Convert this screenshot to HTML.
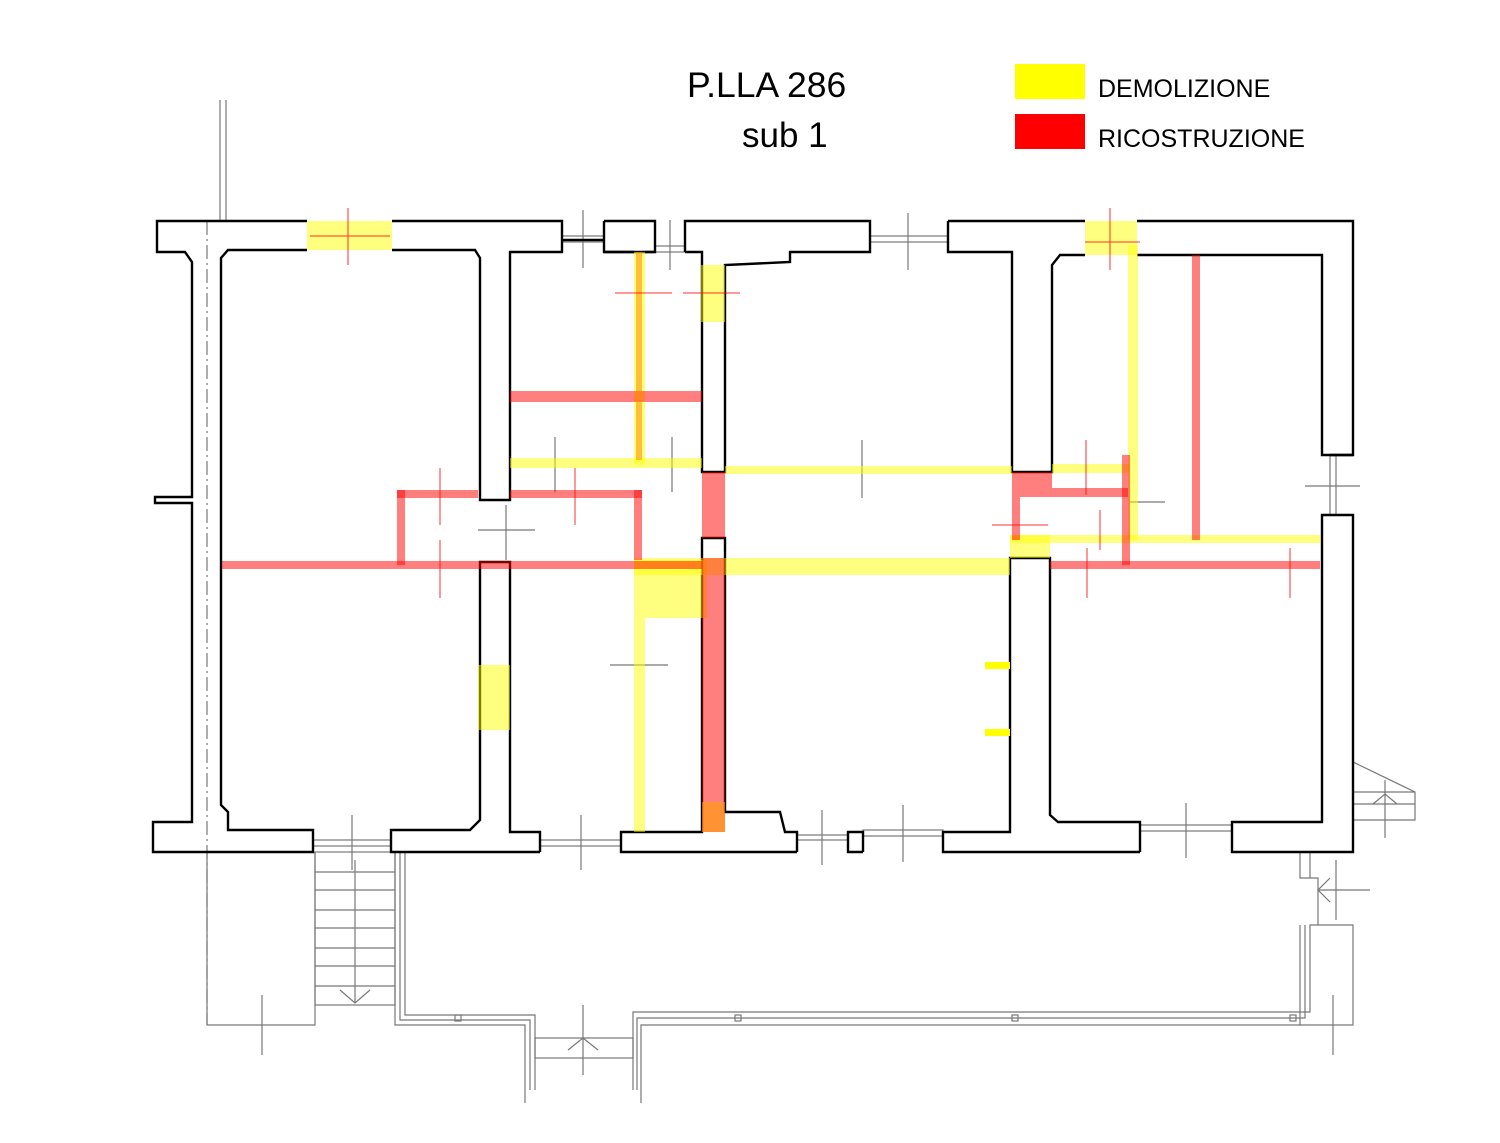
<!DOCTYPE html>
<html><head><meta charset="utf-8"><style>
html,body{margin:0;padding:0;background:#fff}
svg{display:block}
text{font-family:"Liberation Sans",sans-serif;fill:#000}
</style></head><body>
<svg width="1500" height="1143" viewBox="0 0 1500 1143" xmlns="http://www.w3.org/2000/svg">
<rect width="1500" height="1143" fill="#fff"/>
<text x="687" y="97" font-size="35.5">P.LLA 286</text>
<text x="742" y="147" font-size="35">sub 1</text>
<rect x="1015" y="64" width="70" height="35" fill="#ffff00"/>
<rect x="1015" y="114" width="70" height="35" fill="#ff0000"/>
<text x="1098" y="97" font-size="25">DEMOLIZIONE</text>
<text x="1098" y="147" font-size="25">RICOSTRUZIONE</text>

<g stroke="#777" stroke-width="1.2" fill="none">
<line x1="220" y1="100" x2="220" y2="221"/><line x1="226" y1="100" x2="226" y2="221"/>
<line x1="207" y1="221" x2="207" y2="1025" stroke-dasharray="14,4,2,4"/>
<polyline points="207,852 207,1025 315,1025 315,852"/>
<rect x="315" y="852" width="80" height="153"/>
<g>
<line x1="315" y1="872" x2="395" y2="872"/><line x1="315" y1="890" x2="395" y2="890"/>
<line x1="315" y1="910" x2="395" y2="910"/><line x1="315" y1="928" x2="395" y2="928"/>
<line x1="315" y1="948" x2="395" y2="948"/><line x1="315" y1="966" x2="395" y2="966"/>
<line x1="315" y1="986" x2="395" y2="986"/>
<line x1="355" y1="860" x2="355" y2="1003"/><polyline points="340,990 355,1003 370,990"/>
</g>
<polyline points="395,852 395,1025 525,1025 525,1103"/>
<polyline points="400,852 400,1020 530,1020 530,1090"/>
<polyline points="405,852 405,1015 535,1015 535,1090"/>
<rect x="535" y="1038" width="98" height="20"/>
<polyline points="568,1050 583,1038 598,1050"/>
<line x1="583" y1="1005" x2="583" y2="1075"/>
<polyline points="641,1103 641,1025 1300,1025 1300,925"/>
<polyline points="633,1090 633,1012 1310,1012 1310,925 1353,925 1353,1025 1300,1025"/>
<polyline points="637,1090 637,1018 1305,1018 1305,925"/>
<rect x="455" y="1015" width="6" height="6"/><rect x="735" y="1015" width="6" height="6"/>
<rect x="1012" y="1015" width="6" height="6"/><rect x="1290" y="1015" width="6" height="6"/>
<line x1="1333" y1="995" x2="1333" y2="1055"/><line x1="262" y1="995" x2="262" y2="1055"/>
<polyline points="1300,852 1300,878 1318,878 1318,925"/>
<polyline points="1310,852 1310,878"/>
<line x1="1318" y1="890" x2="1370" y2="890"/><polyline points="1330,878 1318,890 1330,902"/>
<line x1="1336" y1="860" x2="1336" y2="920"/>
<polyline points="1353,762 1415,792 1415,820 1353,820"/>
<line x1="1353" y1="792" x2="1415" y2="792"/><line x1="1353" y1="804" x2="1415" y2="804"/>
<line x1="1385" y1="780" x2="1385" y2="838"/><polyline points="1373,804 1385,794 1397,804"/>
<rect x="313" y="840" width="78" height="6"/><rect x="540" y="840" width="81" height="6"/>
<rect x="797" y="835" width="51" height="5"/><rect x="863" y="830" width="80" height="6"/>
<rect x="1140" y="825" width="92" height="6"/>
<rect x="562" y="236" width="42" height="6"/><rect x="655" y="246" width="30" height="6"/>
<rect x="870" y="236" width="78" height="6"/><rect x="1330" y="455" width="6" height="60"/>
<line x1="583" y1="210" x2="583" y2="268"/><line x1="670" y1="220" x2="670" y2="270"/>
<line x1="908" y1="213" x2="908" y2="270"/><line x1="478" y1="530" x2="535" y2="530"/>
<line x1="506" y1="505" x2="506" y2="560"/><line x1="555" y1="437" x2="555" y2="492"/>
<line x1="672" y1="437" x2="672" y2="492"/><line x1="862" y1="440" x2="862" y2="498"/>
<line x1="610" y1="665" x2="668" y2="665"/><line x1="581" y1="815" x2="581" y2="870"/>
<line x1="352" y1="815" x2="352" y2="870"/><line x1="822" y1="810" x2="822" y2="865"/>
<line x1="903" y1="805" x2="903" y2="862"/><line x1="1186" y1="803" x2="1186" y2="858"/>
<line x1="1305" y1="486" x2="1360" y2="486"/><line x1="1130" y1="502" x2="1165" y2="502"/>
</g>

<g stroke="#000" stroke-width="2.4" fill="none" stroke-linejoin="miter">
<polyline points="307,221 157,221 157,252 185,252 192,262 192,497 155,497 155,503 192,503 192,822 153,822 153,852 313,852 313,830 228,830 228,812 221,805 221,258 228,250 307,250"/>
<polyline points="392,250 475,250 480,258 480,500 510,500 510,252 562,252 562,221 392,221"/>
<polyline points="562,240 604,240"/>
<polyline points="604,221 655,221 655,252 604,252 604,221"/>
<polyline points="604,252 634,252"/>
<polyline points="645,252 655,252"/>
<polyline points="685,252 702,252 702,472 725,472 725,265 790,262 790,252 870,252 870,221 685,221 685,252"/>
<polyline points="948,221 1085,221"/>
<polyline points="948,221 948,252 1012,252 1012,472 1052,472 1052,265 1060,255 1085,255"/>
<polyline points="1137,221 1353,221 1353,455 1322,455 1322,255 1137,255"/>
<polyline points="1353,455 1330,455"/>
<polyline points="1330,515 1353,515 1353,852 1232,852 1232,822 1322,822 1322,515 1330,515"/>
<polyline points="1140,852 943,852 943,832 1010,832 1010,558 1050,558 1050,815 1058,822 1140,822 1140,852"/>
<polyline points="863,852 848,852 848,832 863,832 863,852"/>
<polyline points="797,852 621,852 621,832 702,832 702,538 725,538 725,812 780,812 785,832 797,832 797,852"/>
<polyline points="540,852 391,852 391,830 470,830 480,820 480,562 510,562 510,832 540,832 540,852"/>
</g>

<g fill="rgba(255,255,0,0.5)">
<rect x="307" y="221" width="85" height="29"/>
<rect x="1085" y="221" width="52" height="34"/>
<rect x="701" y="265" width="24" height="57"/>
<rect x="634" y="252" width="11" height="213"/>
<rect x="510" y="458" width="192" height="10"/>
<rect x="725" y="466" width="287" height="8"/>
<rect x="1052" y="464" width="78" height="9"/>
<rect x="1128" y="245" width="10" height="295"/>
<rect x="1010" y="535" width="310" height="8"/>
<rect x="1010" y="535" width="40" height="23"/>
<rect x="634" y="558" width="376" height="17"/>
<rect x="634" y="560" width="73" height="58"/>
<rect x="634" y="618" width="11" height="214"/>
<rect x="478" y="665" width="32" height="65"/>
</g>
<rect x="985" y="662" width="25" height="7" fill="#ffff00"/>
<rect x="985" y="729" width="25" height="7" fill="#ffff00"/>

<g fill="rgba(255,0,0,0.5)">
<rect x="510" y="391" width="192" height="11"/>
<rect x="222" y="561" width="480" height="8"/>
<rect x="397" y="490" width="8" height="75"/>
<rect x="397" y="490" width="81" height="8"/>
<rect x="510" y="490" width="132" height="8"/>
<rect x="634" y="490" width="8" height="70"/>
<rect x="702" y="472" width="23" height="66"/>
<rect x="702" y="558" width="23" height="274"/>
<rect x="1012" y="472" width="40" height="25"/>
<rect x="1052" y="488" width="76" height="9"/>
<rect x="1122" y="455" width="8" height="110"/>
<rect x="1012" y="497" width="8" height="43"/>
<rect x="1050" y="561" width="270" height="8"/>
<rect x="1192" y="255" width="8" height="285"/>
</g>
<rect x="636" y="252" width="6" height="208" fill="rgba(255,140,0,0.55)"/>
<rect x="702" y="802" width="23" height="30" fill="rgba(255,160,0,0.6)"/>

<g stroke="#f00" stroke-width="1" opacity="0.8">
<line x1="348" y1="208" x2="348" y2="265"/><line x1="310" y1="236" x2="390" y2="236"/>
<line x1="615" y1="293" x2="672" y2="293"/><line x1="683" y1="293" x2="740" y2="293"/>
<line x1="440" y1="468" x2="440" y2="525"/><line x1="575" y1="468" x2="575" y2="525"/>
<line x1="440" y1="540" x2="440" y2="598"/><line x1="992" y1="525" x2="1048" y2="525"/>
<line x1="1086" y1="440" x2="1086" y2="495"/><line x1="1100" y1="510" x2="1100" y2="550"/>
<line x1="1087" y1="548" x2="1087" y2="598"/><line x1="1290" y1="548" x2="1290" y2="598"/>
<line x1="1110" y1="208" x2="1110" y2="270"/><line x1="1085" y1="242" x2="1140" y2="242"/>
</g>
</svg>
</body></html>
